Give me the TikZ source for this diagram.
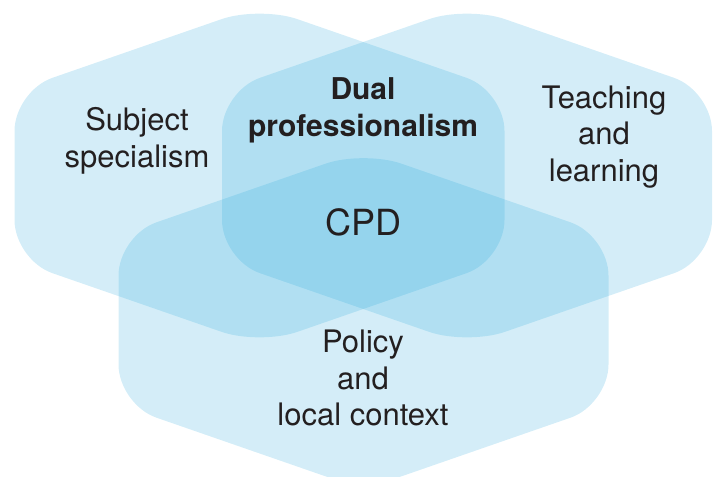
\documentclass[tikz,border=0pt]{standalone}
\usepackage{fontspec}
\setmainfont{TeX Gyre Heros}
\usetikzlibrary{positioning}
\definecolor{skyblue}{HTML}{26A7DB}
\definecolor{ink}{HTML}{231F20}
\newcommand{\hexagon}[1]{%
  \fill[hex, shift={#1}] (-245,0) -- (-245,-84.5) -- (0,-169.5) -- (245,-84.5)
    -- (245,84.5) -- (0,169.5) -- (-245,84.5) -- cycle;}

\begin{document}
\begin{tikzpicture}[x=1pt, y=-1pt,
  hex/.style={fill=skyblue, fill opacity=0.2, rounded corners=40pt},
  lbl/.style={font=\fontsize{31}{36.5}\selectfont, text=ink, align=center, inner sep=0pt}]
\clip (0,0) rectangle (719,476);
\useasboundingbox (0,0) rectangle (719,476);

% the three circles of the diagram
\coordinate (subj) at (259.5,175.5);
\coordinate (teach) at (467,175.5);
\coordinate (policy) at (363.5,320);
\hexagon{(subj)}
\hexagon{(teach)}
\hexagon{(policy)}

% labels
\node[lbl] (subjlbl) at (137,141) {Subject\\specialism};
\node[lbl] (teachlbl) at (604,137) {Teaching\\and\\learning};
\node[lbl, font=\fontsize{30}{37}\selectfont\bfseries] (duallbl) at (363,110) {Dual\\professionalism};
\node[lbl, font=\fontsize{36}{40}\selectfont] (cpd) at (363,222) {CPD};
\node[lbl] (policylbl) at (363,378) {Policy\\and\\local context};
\end{tikzpicture}
\end{document}
